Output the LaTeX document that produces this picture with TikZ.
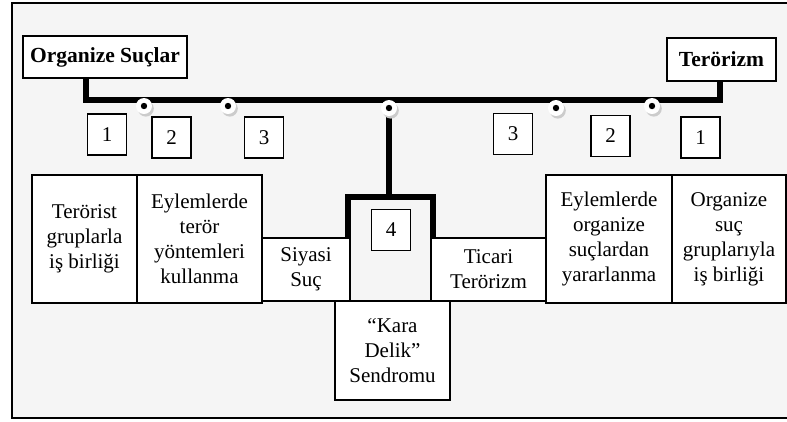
\documentclass[tikz,border=0pt]{standalone}
\usepackage{fontspec}
\setmainfont{Liberation Serif}

\tikzset{
  box/.style     = {shape=rectangle, draw, fill=white, align=center,
                    inner sep=0pt, line width=1.2pt},
  headbox/.style = {box, font=\fontsize{21.5}{25}\selectfont\bfseries},
  numbox/.style  = {box, minimum width=39pt, minimum height=41pt},
  bar/.style     = {draw, line width=5.5pt},
  knob/.style    = {circle, fill=white, inner sep=0pt, minimum size=16pt},
  knobshade/.style = {fill=gray!40}
}

\begin{document}
\begin{tikzpicture}
[
x=1pt, y=-1pt,
    every node/.style = {font=\fontsize{21}{25}\selectfont}
  ]
\useasboundingbox (0,0) rectangle (787,421);
\fill[gray!8] (12,3) rectangle (792,418);
\draw[line width=2pt] (12,3) rectangle (792,418);

% heads
\node[headbox, minimum width=164pt, minimum height=42pt] (orgsuc) at (105,57) {Organize Suçlar};
\node[headbox, minimum width=109pt, minimum height=43pt] (teror) at (721.5,59.5) {Terörizm};

% main bar and fork
\coordinate (jl) at (86,100);
\coordinate (jr) at (720,100);
\coordinate (fork) at (389,197);
\coordinate (fl) at (348,197);
\coordinate (fr) at (433,197);
\draw[bar] (orgsuc.south -| jl) -- (jl) -- (jr) -- (teror.south -| jr);
\draw[bar] (389,100) -- (fork);
\draw[bar] (311,238 -| fl) -- (fl) -- (fr) -- (488,238 -| fr);

% knobs
\foreach \name/\kx/\ky in {k1/144/106, k2/228/106, k3/389/108, k4/556/108, k5/652/106}{
  \fill[knobshade] (\kx+1.8,\ky+2.6) circle (8pt);
  \node[knob] (\name) at (\kx,\ky) {};
  \fill (\name.center) circle (3.2pt);
}

% numbers
\node[numbox] (n1l) at (107,134.5) {1};
\node[numbox] (n2l) at (171.5,137.5) {2};
\node[numbox] (n3l) at (264,137.5) {3};
\node[numbox] (n3r) at (513,134) {3};
\node[numbox] (n2r) at (610.5,136) {2};
\node[numbox] (n1r) at (700.5,137.5) {1};
\node[numbox] (n4) at (391,230) {4};

% lower boxes
\node[box, minimum width=105pt, minimum height=128pt] (b1) at (84.5,239) {Terörist\\gruplarla\\iş birliği};
\node[box, minimum width=125pt, minimum height=128pt] (b2) at (199.5,239) {Eylemlerde\\terör\\yöntemleri\\kullanma};
\node[box, minimum width=88pt, minimum height=63pt] (b3) at (306,269.5) {Siyasi\\Suç};
\node[box, minimum width=115pt, minimum height=63pt] (b5) at (488.5,269.5) {Ticari\\Terörizm};
\node[box, minimum width=115pt, minimum height=99pt] (b4) at (392.5,350.5) {“Kara\\Delik”\\Sendromu};
\node[box, minimum width=126pt, minimum height=128pt] (b6) at (609,239) {Eylemlerde\\organize\\suçlardan\\yararlanma};
\node[box, minimum width=114pt, minimum height=128pt] (b7) at (729,239) {Organize\\suç\\gruplarıyla\\iş birliği};
\end{tikzpicture}
\end{document}
